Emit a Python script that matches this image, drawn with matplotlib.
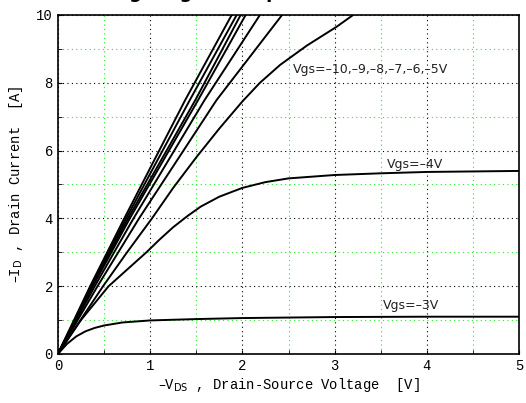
import matplotlib
matplotlib.use("Agg")
import matplotlib.pyplot as plt
from matplotlib.ticker import MultipleLocator

# curves: (-V_DS, -I_D)
vds_a = [0, 0.35, 0.72, 1.38, 1.884]
id_a = [0, 2, 4, 7.49, 10]
vds_b = [0, 0.36, 0.74, 1.43, 1.938]
id_b = [0, 2, 4, 7.49, 10]
vds_c = [0, 0.37, 0.76, 1.49, 1.981]
id_c = [0, 2, 4, 7.49, 10]
vds_d = [0, 0.38, 0.78, 1.52, 2.035]
id_d = [0, 2, 4, 7.49, 10]
vds_e = [0, 0.40, 0.82, 1.59, 2.19]
id_e = [0, 2, 4, 7.49, 10]
vds_f = [0, 0.43, 0.88, 1.72, 2.43]
id_f = [0, 2, 4, 7.49, 10]
vds_5 = [0, 0.25, 0.49, 0.75, 1.02, 1.25, 1.5, 1.75, 2.0, 2.19, 2.41, 2.7, 3.02, 3.2]
id_5 = [0, 1.02, 2, 3.0, 4, 4.9, 5.8, 6.65, 7.45, 8.0, 8.53, 9.1, 9.65, 10]
vds_4 = [0, 0.25, 0.55, 0.96, 1.1, 1.25, 1.4, 1.55, 1.75, 2.0, 2.25, 2.5, 3.0, 3.5, 4.0, 5.0]
id_4 = [0, 1.0, 2, 3, 3.37, 3.74, 4.06, 4.35, 4.64, 4.9, 5.07, 5.18, 5.28, 5.33, 5.37, 5.4]
vds_3 = [0, 0.1, 0.2, 0.3, 0.4, 0.5, 0.7, 1.0, 1.5, 2.0, 3.0, 4.0, 5.0]
id_3 = [0, 0.3, 0.52, 0.67, 0.77, 0.84, 0.93, 0.99, 1.03, 1.06, 1.09, 1.1, 1.1]

curves = [(vds_a, id_a), (vds_b, id_b), (vds_c, id_c), (vds_d, id_d),
          (vds_e, id_e), (vds_f, id_f), (vds_5, id_5), (vds_4, id_4), (vds_3, id_3)]

labels = ['Vgs=\u201310,\u20139,\u20138,\u20137,\u20136,\u20135V', 'Vgs=\u20134V', 'Vgs=\u20133V']
label_x = [2.55, 3.57, 3.52]
label_y = [8.4, 5.6, 1.42]

mono = ['Liberation Mono', 'DejaVu Sans Mono']
narrow = ['Liberation Sans Narrow', 'DejaVu Sans']

fig = plt.figure(figsize=(5.26, 4.03), dpi=100)
ax = fig.add_axes([0.110, 0.1216, 0.877, 0.8412])

for x, y in curves:
    ax.plot(x, y, color='black', lw=1.4)

for t, x, y in zip(labels, label_x, label_y):
    ax.text(x, y, t, fontsize=9, family=narrow, va='center', ha='left', color='#222222')

ax.set_xlim(0, 5)
ax.set_ylim(0, 10)
ax.xaxis.set_major_locator(MultipleLocator(1))
ax.xaxis.set_minor_locator(MultipleLocator(0.5))
ax.yaxis.set_major_locator(MultipleLocator(2))
ax.yaxis.set_minor_locator(MultipleLocator(1))
ax.grid(which='major', color='black', linestyle=(0, (1, 3)), lw=0.8)
ax.grid(which='minor', color='#22ee22', linestyle=(0, (1, 3)), lw=0.8)
ax.tick_params(which='both', direction='in', top=False, right=False, length=3, labelsize=10)
for lab in ax.get_xticklabels() + ax.get_yticklabels():
    lab.set_family(mono)
for s in ax.spines.values():
    s.set_linewidth(1.2)

ax.set_xlabel('\u2013V$_{\\mathrm{DS}}$ , Drain-Source Voltage  [V]', family=mono, fontsize=10, labelpad=2)
ax.set_ylabel('\u2013I$_{\\mathrm{D}}$ , Drain Current  [A]', family=mono, fontsize=10, labelpad=8)

# title sits above the canvas, only descenders show
fig.text(0.185, 1.006, 'Large Signal Output Characteristics', fontsize=13,
         fontweight='bold', va='baseline', ha='left')

fig.savefig('out.png', dpi=100)
